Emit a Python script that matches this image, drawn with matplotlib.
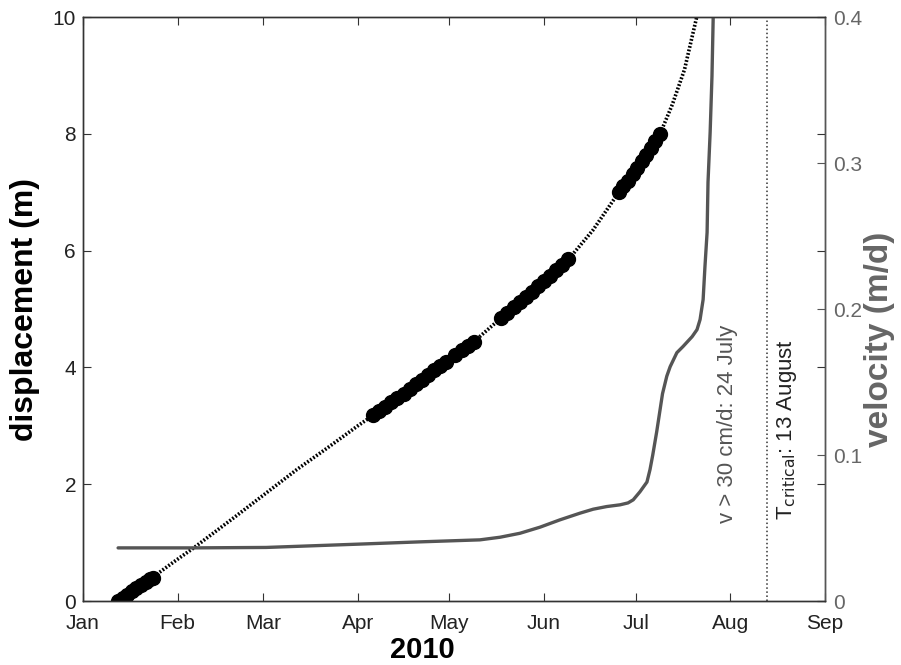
import numpy as np
import pandas as pd
import matplotlib
matplotlib.use('Agg')
import matplotlib.pyplot as plt
import matplotlib.dates as mdates

plt.rcParams['font.family'] = ['Liberation Sans', 'DejaVu Sans']

START = pd.Timestamp('2010-01-01')

# displacement model curve (days since 1 Jan 2010, metres)
curve_days = [11.5, 20, 30, 36, 50, 60, 70, 80, 90, 95, 105, 119, 128, 137, 150,
              159, 167, 175.5, 182, 189, 193, 197, 201]
curve_disp = [0.0, 0.3, 0.68, 0.9, 1.45, 1.85, 2.25, 2.62, 3.0, 3.18, 3.55, 4.1,
              4.44, 4.85, 5.4, 5.85, 6.35, 7.0, 7.5, 8.0, 8.5, 9.1, 10.0]

# observed displacement (days since 1 Jan 2010, metres)
obs_days = [11.5, 13, 14.5, 16, 17.5, 19, 20.5, 22, 23,
            95, 97, 99, 101, 103, 105, 107, 109, 111, 113, 115, 117, 119,
            122, 124, 126, 128,
            137, 139, 141, 143, 145, 147, 149, 151, 153, 155, 157, 159,
            175.5, 177, 178.5, 180, 181.5, 183, 184.5, 186, 187.5, 189]
obs_disp = [0.0, 0.06, 0.11, 0.17, 0.22, 0.27, 0.32, 0.37, 0.40,
            3.18, 3.26, 3.33, 3.40, 3.48, 3.55, 3.63, 3.71, 3.79, 3.87, 3.95, 4.02, 4.10,
            4.22, 4.30, 4.37, 4.44,
            4.85, 4.94, 5.03, 5.12, 5.21, 5.30, 5.39, 5.48, 5.57, 5.66, 5.76, 5.85,
            7.0, 7.1, 7.2, 7.31, 7.42, 7.53, 7.64, 7.76, 7.88, 8.0]

# velocity (days since 1 Jan 2010, m/d)
vel_days = [11.5, 36, 60, 90.7, 110, 130, 136.6, 143.1, 149.7, 156.2, 162.8, 167.1,
            171.5, 175.9, 178.5, 180.2, 182.4, 184.7, 185.7, 186.6, 187.9, 189.8,
            191.2, 192.3, 194.5, 196.5, 199.5, 201.1, 202.1, 203.1, 203.7, 204.4,
            204.7, 205.4, 206.0, 206.4]
vel = [0.0364, 0.0364, 0.0367, 0.039, 0.0405, 0.0419, 0.0437, 0.0464, 0.0506, 0.0556,
       0.0602, 0.0629, 0.0647, 0.0659, 0.0672, 0.0693, 0.0748, 0.0815, 0.090, 0.1000,
       0.1160, 0.1420, 0.1540, 0.1605, 0.1701, 0.1743, 0.1811, 0.1859, 0.1928, 0.2065,
       0.2291, 0.2525, 0.2868, 0.3211, 0.3595, 0.4]

t_critical_day = 224   # 13 August

disp_ticks = [0, 2, 4, 6, 8, 10]
vel_ticks = [0, 0.1, 0.2, 0.3, 0.4]
vel_ticklabels = ['0', '0.1', '0.2', '0.3', '0.4']


def to_dates(days):
    return START + pd.to_timedelta(np.asarray(days, dtype=float), unit='D')


def create():
    fig = plt.figure(figsize=(9.01, 6.65), dpi=100)
    ax1 = fig.add_axes([0.0921, 0.0962, 0.8235, 0.8782])
    ax2 = ax1.twinx()

    gray = '#555555'
    dark = '#333333'

    # velocity on right axis
    ax2.plot(to_dates(vel_days), vel, color=gray, linewidth=2.4,
             solid_capstyle='round', solid_joinstyle='round')
    ax2.set_ylim(0, 0.4)
    ax2.set_yticks(vel_ticks)
    ax2.set_yticklabels(vel_ticklabels)
    ax2.tick_params(axis='y', direction='in', length=6, labelsize=15,
                    labelcolor='#666666', color=gray, pad=6)
    ax2.set_ylabel('velocity (m/d)', fontsize=24, fontweight='bold', color='#666666')
    ax2.yaxis.set_label_coords(1.053, 0.448)

    # displacement on left axis
    ax1.plot(to_dates(curve_days), curve_disp, color='black', linestyle=(0, (0.5, 0.5)),
             linewidth=2.6)
    ax1.plot(to_dates(obs_days), obs_disp, linestyle='none', marker='o', markersize=10,
             color='black')
    ax1.axvline(to_dates([t_critical_day])[0], color=dark, linestyle=':', linewidth=1.1)

    ax1.set_ylim(0, 10)
    ax1.set_yticks(disp_ticks)
    ax1.set_xlim(pd.Timestamp('2010-01-01'), pd.Timestamp('2010-09-01'))
    ax1.xaxis.set_major_locator(mdates.MonthLocator())
    ax1.xaxis.set_major_formatter(mdates.DateFormatter('%b'))
    ax1.tick_params(axis='both', direction='in', length=6, labelsize=15, top=True,
                    color=dark, labelcolor='#222222')
    ax1.tick_params(axis='x', pad=9)
    ax1.tick_params(axis='y', right=True, pad=5)
    ax1.set_ylabel('displacement (m)', fontsize=23, fontweight='bold')
    ax1.yaxis.set_label_coords(-0.058, 0.5)
    ax1.set_xlabel('2010', fontsize=21, fontweight='bold')
    ax1.xaxis.set_label_coords(0.457, -0.06)

    for ax in (ax1, ax2):
        for s in ax.spines.values():
            s.set_color(dark)
            s.set_linewidth(1.0)
    ax2.spines['right'].set_color(gray)

    ax1.text(to_dates([211])[0], 3.04, 'v > 30 cm/d: 24 July', rotation=90,
             ha='center', va='center', fontsize=16, color=gray)
    ax1.text(to_dates([230.5])[0], 1.39, r'T$_{\mathrm{critical}}$: 13 August',
             rotation=90, ha='center', va='bottom', fontsize=16, color='#222222')

    fig.savefig('out.png', dpi=100)


if __name__ == "__main__":
    create()
